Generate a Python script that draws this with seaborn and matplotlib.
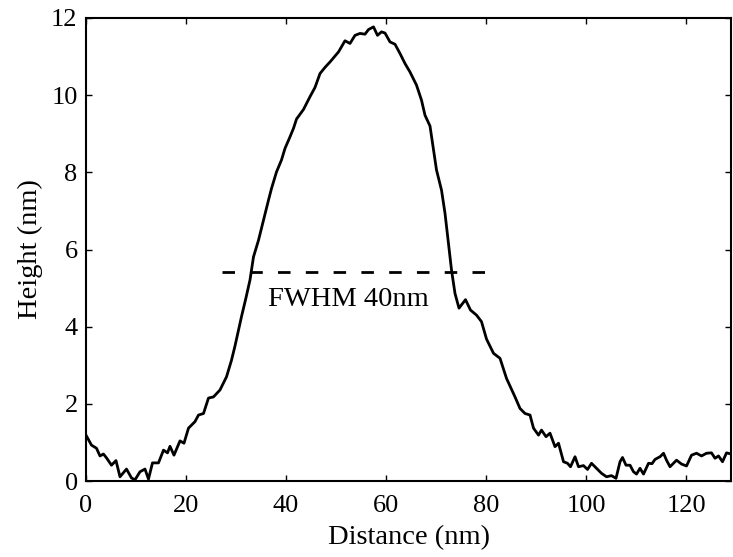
import numpy as np
import pandas as pd
import matplotlib
matplotlib.use("Agg")
import matplotlib.pyplot as plt
import seaborn as sns

distance_nm = [0, 1.1, 2.1, 2.8, 3.5, 4.1, 5.1, 6.0, 6.8, 8.1, 9.1, 9.8, 10.8, 11.8, 12.5,
               13.3, 14.5, 15.5, 16.3, 16.8, 17.6, 18.8, 19.6, 20.5, 21.8, 22.5, 23.5, 24.5,
               25.5, 26.8, 28.1, 29.1, 29.8, 31.1, 32.0, 32.8, 33.5, 34.5, 35.5, 36.5, 37.1,
               38.1, 39.1, 39.8, 40.8, 41.5, 42.1, 43.5, 44.8, 45.8, 46.8, 47.8, 48.8, 50.5,
               51.8, 52.8, 53.8, 54.8, 55.8, 56.5, 57.5, 58.3, 59.1, 59.8, 60.8, 61.8, 62.8,
               63.8, 64.8, 66.1, 67.1, 67.8, 68.8, 69.5, 70.1, 71.1, 71.8, 72.5, 73.1, 73.8,
               74.6, 75.9, 76.9, 78.1, 79.1, 80.1, 81.5, 82.8, 84.1, 85.8, 86.8, 87.8, 88.8,
               89.5, 90.5, 91.1, 92.0, 92.8, 93.8, 94.5, 95.5, 96.3, 96.9, 97.8, 98.5, 99.5,
               100.3, 101.1, 102.1, 103.1, 104.1, 105.1, 106.0, 106.8, 107.3, 108.0, 108.8,
               109.5, 110.1, 110.8, 111.5, 112.5, 113.2, 113.8, 114.8, 115.5, 116.1, 116.8,
               118.1, 119.1, 120.1, 121.1, 122.1, 123.1, 124.1, 125.1, 125.8, 126.5, 127.3,
               128.1, 129.0]
height_nm = [1.19, 0.93, 0.85, 0.65, 0.70, 0.60, 0.41, 0.53, 0.11, 0.31, 0.08, 0.03, 0.24, 0.31, 0.05,
             0.47, 0.47, 0.80, 0.73, 0.90, 0.67, 1.04, 0.98, 1.37, 1.54, 1.71, 1.75, 2.15,
             2.18, 2.36, 2.70, 3.13, 3.50, 4.26, 4.75, 5.21, 5.81, 6.24, 6.76, 7.28, 7.58,
             8.01, 8.32, 8.62, 8.92, 9.14, 9.38, 9.63, 9.96, 10.20, 10.56, 10.72, 10.86, 11.12,
             11.41, 11.34, 11.55, 11.60, 11.58, 11.70, 11.77, 11.55, 11.64, 11.61, 11.38, 11.32, 11.08,
             10.82, 10.60, 10.26, 9.87, 9.48, 9.20, 8.58, 8.06, 7.54, 6.94, 6.16, 5.47, 4.86,
             4.48, 4.70, 4.43, 4.30, 4.13, 3.68, 3.31, 3.18, 2.66, 2.18, 1.88, 1.75, 1.71,
             1.37, 1.19, 1.32, 1.15, 1.24, 0.89, 0.98, 0.50, 0.46, 0.37, 0.63, 0.37, 0.40,
             0.30, 0.46, 0.33, 0.20, 0.11, 0.14, 0.07, 0.50, 0.61, 0.41, 0.41,
             0.24, 0.18, 0.33, 0.18, 0.46, 0.45, 0.56, 0.63, 0.72, 0.54, 0.37,
             0.54, 0.44, 0.39, 0.67, 0.72, 0.65, 0.72, 0.73, 0.59, 0.65, 0.50,
             0.73, 0.70]

fwhm_x = [27.2, 80.8]
fwhm_y = [5.41, 5.41]
fwhm_label = "FWHM 40nm"

x_ticks = [0, 20, 40, 60, 80, 100, 120]
y_ticks = [0, 2, 4, 6, 8, 10, 12]

sns.set_style("ticks")
plt.rcParams['font.family'] = ['Liberation Serif', 'DejaVu Serif']
plt.rcParams['lines.scale_dashes'] = False
plt.rcParams['text.color'] = 'black'
plt.rcParams['axes.labelcolor'] = 'black'
plt.rcParams['xtick.color'] = 'black'
plt.rcParams['ytick.color'] = 'black'

fig = plt.figure(figsize=(7.33, 5.57), dpi=100)
ax = fig.add_axes([0.1173, 0.1364, 0.8800, 0.8313])

df = pd.DataFrame({"Distance": distance_nm, "Height": height_nm})
sns.lineplot(data=df, x="Distance", y="Height", ax=ax, color="black", lw=2.0,
             estimator=None, sort=False)
ax.plot(fwhm_x, fwhm_y, color="black", lw=2.0, linestyle=(0, (9, 11)))
ax.text(52.4, 4.70, fwhm_label, ha="center", va="center", fontsize=20.5, color="black")

ax.set_xlim(0, 129)
ax.set_ylim(0, 12)
ax.set_xticks(x_ticks)
ax.set_yticks(y_ticks)
ax.set_xlabel("Distance (nm)", fontsize=20.5, labelpad=6)
ax.set_ylabel("Height (nm)", fontsize=20.5, labelpad=6)
ax.tick_params(direction="in", length=4, width=1, labelsize=19, top=True, right=True)
ax.tick_params(axis="x", pad=10)
ax.tick_params(axis="y", pad=6)
for s in ax.spines.values():
    s.set_linewidth(1.5)
    s.set_color("black")

fig.savefig("out.png", dpi=100)
